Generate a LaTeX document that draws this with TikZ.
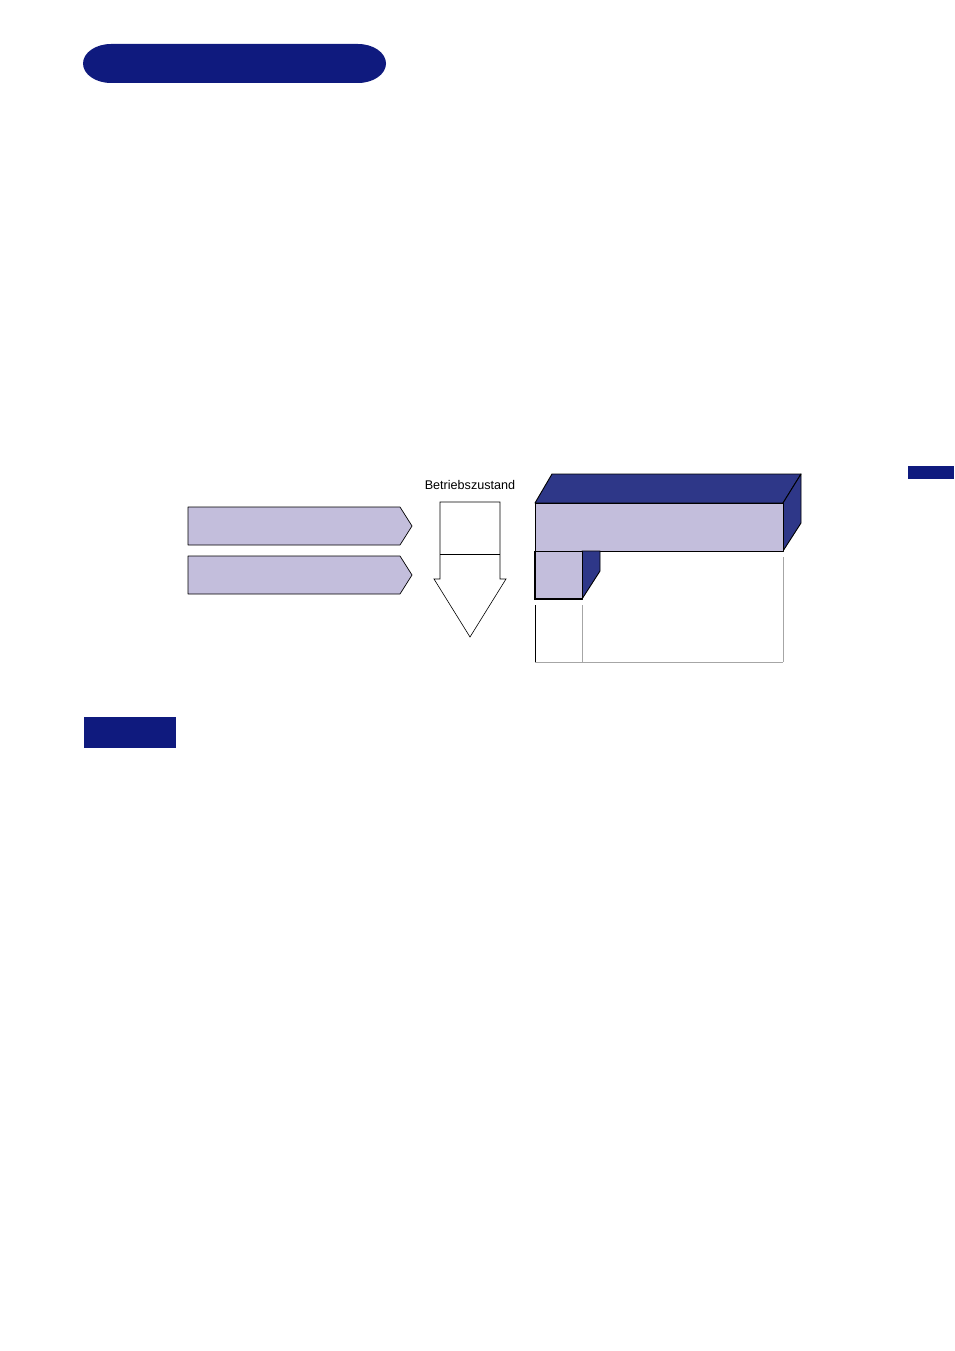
\documentclass[tikz,border=0pt]{standalone}
\usepackage{fontspec}
\setmainfont{Liberation Sans}
\definecolor{navy}{HTML}{0F1A7E}
\definecolor{blockblue}{HTML}{2E3788}
\definecolor{lav}{HTML}{C3BEDC}
\begin{document}
\begin{tikzpicture}[x=1pt,y=-1pt,
  lavface/.style={fill=lav,draw=black,line width=0.9pt,line join=round},
  darkface/.style={fill=blockblue,draw=black,line width=0.9pt,line join=round},
  thin/.style={draw=black,line width=0.6pt},
  greyline/.style={draw=gray!70,line width=0.8pt}]
\useasboundingbox (0,0) rectangle (954,1351);
% header pill (elliptical ends)
\fill[navy] (111,44) -- (358,44) arc[start angle=90,end angle=-90,x radius=28,y radius=-19.5]
  -- (111,83) arc[start angle=270,end angle=90,x radius=28,y radius=-19.5] -- cycle;
% small label box
\fill[navy] (84,717) rectangle (176,748);
% side tab
\fill[navy] (908,466) rectangle (954,479);
% chevrons
\draw[lavface,line width=0.7pt] (188,507) -- (400,507) -- (412,526) -- (400,545) -- (188,545) -- cycle;
\draw[lavface,line width=0.7pt] (188,556) -- (400,556) -- (412,575) -- (400,594) -- (188,594) -- cycle;
% down arrow
\node[font=\fontsize{12.6}{14}\selectfont,inner sep=0pt] (lbl) at (470,485) {Betriebszustand};
\draw[thin,fill=white,line join=miter] (440,502) -- (500,502) -- (500,579) -- (506,579) -- (470,637) -- (434,579) -- (440,579) -- cycle;
\draw[thin] (440,554) -- (500,554);
% 3D block
\draw[darkface] (535,503) -- (552,474) -- (801,474) -- (783,503) -- cycle;
\draw[darkface] (783,503) -- (801,474) -- (801,523) -- (783,551) -- cycle;
\draw[lavface] (535,503) rectangle (783,551);
\draw[darkface] (582,551) -- (600,551) -- (600,571) -- (582,599) -- cycle;
\draw[lavface] (535,551) rectangle (582,599);
\draw[line width=1.4pt] (535,551) -- (535,599) -- (582,599);
% lower outline
\draw[thin] (535,605) -- (535,662);
\draw[greyline] (535,662) -- (783,662);
\draw[greyline] (582,605) -- (582,662);
\draw[greyline] (783,557) -- (783,662);
\end{tikzpicture}
\end{document}
